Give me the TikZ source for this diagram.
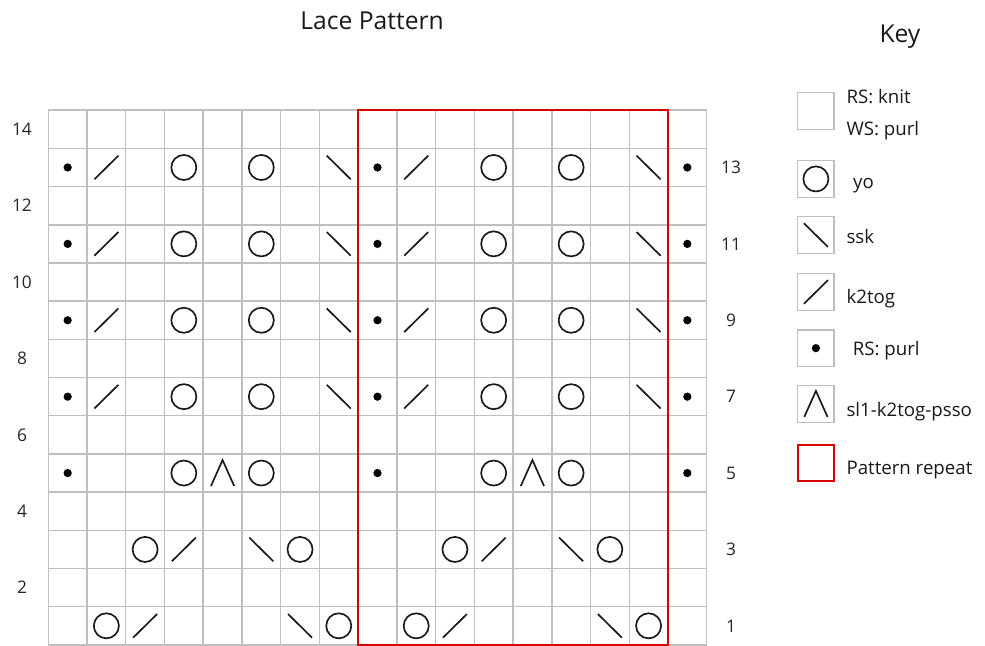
\documentclass[tikz,border=0pt]{standalone}
\usepackage{fontspec}
\setmainfont{Open Sans}

\tikzset{
  chartline/.style={black!25,line width=1.1pt},
  repeatline/.style={red!85!black,line width=1.5pt},
  stitch/.style={black!90,line width=1.25pt},
  rownum/.style={font=\fontsize{13}{15}\selectfont,black!85},
  keytext/.style={font=\fontsize{14}{16}\selectfont,black!90,anchor=base west},
  heading/.style={font=\fontsize{18.5}{22}\selectfont,black!90,anchor=base}
}

\begin{document}
\begin{tikzpicture}[x=29.05pt,y=28.65pt]
  \useasboundingbox (-1.247,-0.026) rectangle (24.186,16.885);
  \draw (8.36,16.1) node[heading] (title) {Lace Pattern};
  \draw (21.99,15.76) node[heading] (keytitle) {Key};
  % chart
  \draw[chartline,step=1] (0,0) grid (17,14);
  \draw[repeatline] (8,0) rectangle (16,14);
  \foreach \r in {2,4,...,14} {
      \draw (-0.68,\r-0.5) node[rownum] (row\r) {\r};
    }
  \foreach \r in {1,3,...,13} {
      \draw (17.63,\r-0.5) node[rownum] (row\r) {\r};
    }
  % yo
  \foreach \c/\r in {2/1,8/1,10/1,16/1,3/3,7/3,11/3,15/3,4/5,6/5,12/5,14/5} {
      \draw[stitch] (\c-0.5,\r-0.5) circle (9.4pt);
    }
  % k2tog
  \foreach \c/\r in {3/1,11/1,4/3,12/3} {
      \draw[stitch] (\c-0.81,\r-0.81) -- (\c-0.19,\r-0.19);
    }
  % ssk
  \foreach \c/\r in {7/1,15/1,6/3,14/3} {
      \draw[stitch] (\c-0.81,\r-0.19) -- (\c-0.19,\r-0.81);
    }
  % sl1-k2tog-psso
  \foreach \c in {5,13} {
      \draw[stitch] (\c-0.8,4.16) -- (\c-0.5,4.84) -- (\c-0.2,4.16);
    }
  % purl
  \foreach \r in {5,7,...,13} {
      \foreach \c in {1,9,17} {
          \fill[black] (\c-0.5,\r-0.5) circle (3.1pt);
        }
    }
  \foreach \r in {7,9,11,13} {
      \foreach \c in {4,6,12,14} {
          \draw[stitch] (\c-0.5,\r-0.5) circle (9.4pt);
        }
      \foreach \c in {2,10} {
          \draw[stitch] (\c-0.81,\r-0.81) -- (\c-0.19,\r-0.19);
        }
      \foreach \c in {8,16} {
          \draw[stitch] (\c-0.81,\r-0.19) -- (\c-0.19,\r-0.81);
        }
    }
  % key
  \foreach \y in {13.98,12.2,10.73,9.24,7.77,6.31} {
      \draw[chartline] (19.35,\y-0.48) rectangle (20.29,\y+0.48);
    }
  \draw[repeatline] (19.35,4.28) rectangle (20.29,5.24);
  \draw[stitch] (19.82,12.2) circle (9.4pt);
  \draw[stitch] (19.51,11.04) -- (20.13,10.42);
  \draw[stitch] (19.51,8.93) -- (20.13,9.55);
  \fill[black] (19.82,7.77) circle (3.1pt);
  \draw[stitch] (19.52,5.97) -- (19.82,6.65) -- (20.12,5.97);
  \draw (20.49,14.18) node[keytext] (knitrs) {RS: knit};
  \draw (20.49,13.35) node[keytext] (knitws) {WS: purl};
  \draw (20.66,11.96) node[keytext] (yo) {yo};
  \draw (20.49,10.52) node[keytext] (ssk) {ssk};
  \draw (20.49,8.95) node[keytext] (k2tog) {k2tog};
  \draw (20.65,7.57) node[keytext] (purl) {RS: purl};
  \draw (20.49,5.98) node[keytext] (sl1) {sl1-k2tog-psso};
  \draw (20.49,4.45) node[keytext] (repeat) {Pattern repeat};
\end{tikzpicture}
\end{document}
